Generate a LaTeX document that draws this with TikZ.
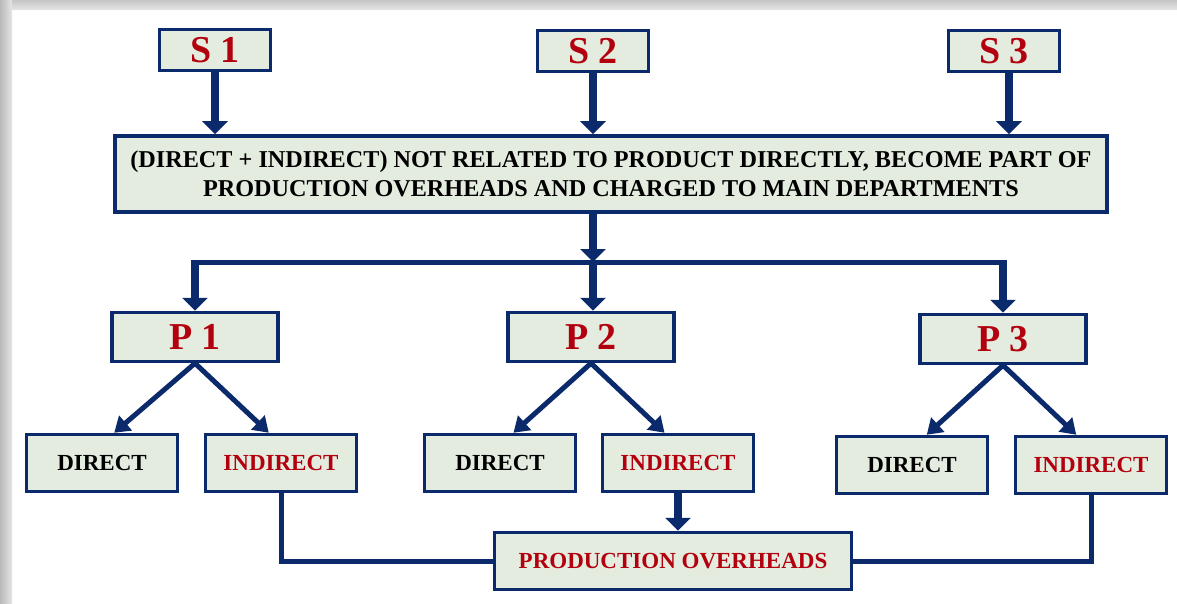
\documentclass[tikz,border=0pt]{standalone}
\usepackage{fontspec}
\setmainfont{Liberation Serif}
\usetikzlibrary{arrows.meta}
\definecolor{navy}{HTML}{0B2A6B}
\definecolor{boxfill}{HTML}{E4ECDF}
\definecolor{darkred}{HTML}{B3000E}
\tikzset{
  box/.style={draw=navy,fill=boxfill,line width=3.5pt,inner sep=0pt,font=\bfseries},
  srcbox/.style={box,minimum width=111pt,minimum height=41pt,text=darkred,font=\bfseries\fontsize{38}{38}\selectfont},
  deptbox/.style={box,minimum width=166pt,minimum height=49pt,text=darkred,font=\bfseries\fontsize{38}{38}\selectfont},
  costbox/.style={box,minimum width=151pt,minimum height=57pt,font=\bfseries\fontsize{23}{23}\selectfont},
  fat/.style={draw=navy,line width=8pt,-{Triangle[width=25pt,length=13pt]}},
  slim/.style={draw=navy,line width=5pt,-{Triangle[width=19pt,length=15pt]}},
  link/.style={draw=navy,line width=5pt},
}
\begin{document}
\begin{tikzpicture}[x=1pt,y=-1pt]
  \useasboundingbox (0,0) rectangle (1177,604);
  \fill[white] (0,0) rectangle (1177,604);
  \fill[left color=gray!55,right color=gray!20] (0,0) rectangle (12,604);
  \fill[top color=gray!45,bottom color=gray!20] (12,0) rectangle (1177,10);

  % service departments
  \node[srcbox] (s1) at (215,50) {S 1};
  \node[srcbox] (s2) at (593,51) {S 2};
  \node[srcbox] (s3) at (1004,51) {S 3};

  \node[box,minimum width=992pt,minimum height=76pt,align=center,
        font=\bfseries\fontsize{24.2}{29}\selectfont] (main) at (611,174)
    {(DIRECT + INDIRECT) NOT RELATED TO PRODUCT DIRECTLY, BECOME PART OF\\
     PRODUCTION OVERHEADS AND CHARGED TO MAIN DEPARTMENTS};

  \draw[fat] (s1) -- (s1 |- main.north);
  \draw[fat] (s2) -- (s2 |- main.north);
  \draw[fat] ([xshift=5pt]s3.south) -- ([xshift=5pt]s3.south |- main.north);

  % production departments
  \node[deptbox] (p1) at (195,337) {P 1};
  \node[deptbox] (p2) at (591,337) {P 2};
  \node[deptbox] (p3) at (1003,339) {P 3};

  \coordinate (bar) at (593,262);
  \draw[fat] (main.south -| s2) -- (bar);
  \draw[link,shorten <=-4pt,shorten >=-4pt] (p1 |- bar) -- (p3 |- bar);
  \draw[fat] (p1 |- bar) -- (p1.north);
  \draw[fat] (bar) -- (bar |- p2.north);
  \draw[fat] (p3 |- bar) -- (p3.north);

  % direct and indirect costs
  \node[costbox] (d1) at (102,463) {DIRECT};
  \node[costbox,text=darkred] (i1) at (281,463) {INDIRECT};
  \node[costbox] (d2) at (500,463) {DIRECT};
  \node[costbox,text=darkred] (i2) at (678,463) {INDIRECT};
  \node[costbox] (d3) at (912,465) {DIRECT};
  \node[costbox,text=darkred] (i3) at (1091,465) {INDIRECT};

  \draw[slim] (p1.south) -- (d1.68);
  \draw[slim] (p1.south) -- (i1.112);
  \draw[slim] (p2.south) -- (d2.66);
  \draw[slim] (p2.south) -- (i2.114);
  \draw[slim] (p3.south) -- (d3.64);
  \draw[slim] (p3.south) -- (i3.116);

  \node[box,minimum width=357pt,minimum height=57pt,text=darkred,
        font=\bfseries\fontsize{23}{23}\selectfont] (po) at (673,561) {PRODUCTION OVERHEADS};

  \draw[fat] (i2.south) -- (i2.south |- po.north);
  \draw[link] (i1.south) |- (po.west);
  \draw[link] (i3.south) |- (po.east);
\end{tikzpicture}
\end{document}
